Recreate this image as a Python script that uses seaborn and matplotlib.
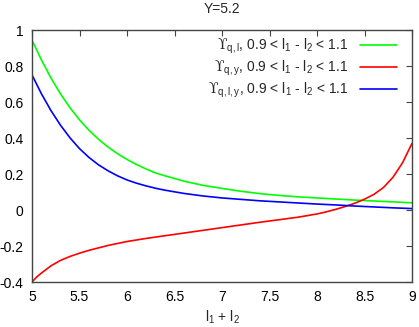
import matplotlib
matplotlib.use("Agg")
import matplotlib.pyplot as plt
import seaborn as sns
import pandas as pd
from matplotlib.ticker import FixedLocator, FuncFormatter

# ---- data ----
x_green = [5.0, 5.1, 5.2, 5.3, 5.4, 5.5, 5.6, 5.7, 5.8, 5.9, 6.0, 6.1, 6.2, 6.3, 6.4, 6.6, 6.8,
           7.0, 7.2, 7.4, 7.6, 7.8, 8.0, 8.2, 8.4, 8.6, 8.8, 9.0]
y_green = [0.943, 0.833, 0.733, 0.645, 0.568, 0.501, 0.443, 0.393, 0.350, 0.313, 0.281, 0.253, 0.228, 0.206, 0.19, 0.16, 0.137,
           0.12, 0.104, 0.091, 0.081, 0.073, 0.067, 0.061, 0.055, 0.05, 0.045, 0.04]

x_red = [5.0, 5.05, 5.1, 5.2, 5.3, 5.4, 5.5, 5.6, 5.8, 6.0, 6.2, 6.4, 6.6, 6.8, 7.0, 7.2, 7.4, 7.6, 7.8,
         8.0, 8.1, 8.2, 8.3, 8.4, 8.5, 8.6, 8.7, 8.8, 8.9, 9.0]
y_red = [-0.40, -0.372, -0.35, -0.31, -0.28, -0.258, -0.24, -0.224, -0.197, -0.175, -0.158, -0.143, -0.128, -0.113, -0.098, -0.083, -0.068, -0.054, -0.04,
         -0.022, -0.01, 0.004, 0.02, 0.038, 0.06, 0.087, 0.125, 0.182, 0.262, 0.37]

x_blue = [5.0, 5.1, 5.2, 5.3, 5.4, 5.5, 5.6, 5.7, 5.8, 5.9, 6.0, 6.1, 6.2, 6.3, 6.4, 6.6, 6.8,
          7.0, 7.2, 7.4, 7.6, 7.8, 8.0, 8.2, 8.4, 8.6, 8.8, 9.0]
y_blue = [0.75, 0.645, 0.552, 0.471, 0.401, 0.341, 0.292, 0.251, 0.218, 0.19, 0.167, 0.149, 0.134, 0.121, 0.11, 0.092, 0.078,
          0.067, 0.059, 0.051, 0.045, 0.039, 0.033, 0.028, 0.022, 0.017, 0.012, 0.008]

series_labels = [
    r"$\mathsf{ϒ}_{q,l}$, 0.9 < l$_1$ - l$_2$ < 1.1",
    r"$\mathsf{ϒ}_{q,y}$, 0.9 < l$_1$ - l$_2$ < 1.1",
    r"$\mathsf{ϒ}_{q,l,y}$, 0.9 < l$_1$ - l$_2$ < 1.1",
]
series_colors = ["#00ff00", "#ff0000", "#0000ff"]

x_ticks = [5, 5.5, 6, 6.5, 7, 7.5, 8, 8.5, 9]
y_ticks = [-0.4, -0.2, 0, 0.2, 0.4, 0.6, 0.8, 1]
title_text = "Y=5.2"
xlabel_text = r"l$_1$ + l$_2$"

# ---- build long table ----
frames = []
for lab, xs, ys in zip(series_labels, [x_green, x_red, x_blue], [y_green, y_red, y_blue]):
    frames.append(pd.DataFrame({"x": xs, "y": ys, "series": lab}))
df = pd.concat(frames, ignore_index=True)

sns.set_style("white")
plt.rcParams["font.family"] = ["Liberation Sans", "DejaVu Sans"]
plt.rcParams["mathtext.fontset"] = "custom"
plt.rcParams["mathtext.rm"] = "Liberation Sans"
plt.rcParams["mathtext.it"] = "Liberation Sans"
plt.rcParams["mathtext.sf"] = "DejaVu Serif"
plt.rcParams["mathtext.default"] = "regular"
plt.rcParams["axes.unicode_minus"] = False

fig = plt.figure(figsize=(4.19, 3.27), dpi=100)
ax = fig.add_axes([32 / 419, 1 - 282 / 327, 380 / 419, 252 / 327])

sns.lineplot(data=df, x="x", y="y", hue="series", hue_order=series_labels,
             palette=series_colors, ax=ax, linewidth=1.2, estimator=None, sort=True)
for ln in ax.lines:
    ln.set_solid_joinstyle("round")

ax.set_xlim(5, 9)
ax.set_ylim(-0.4, 1)
ax.xaxis.set_major_locator(FixedLocator(x_ticks))
ax.yaxis.set_major_locator(FixedLocator(y_ticks))
ax.xaxis.set_major_formatter(FuncFormatter(lambda v, p: f"{v:g}"))
ax.yaxis.set_major_formatter(FuncFormatter(lambda v, p: f"{v:g}"))
ax.tick_params(direction="in", length=4, width=0.8, color="#444444",
               top=True, right=True, labelsize=10, pad=6, labelcolor="black")
for s in ax.spines.values():
    s.set_color("#444444")
    s.set_linewidth(1.0)
ax.set_xlabel(xlabel_text, fontsize=10, labelpad=3)
ax.set_ylabel("")
ax.set_title(title_text, fontsize=10, pad=12)

handles, labels = ax.get_legend_handles_labels()
ax.legend(handles, labels, loc="upper right", bbox_to_anchor=(1 - 5 / 380, 1 + 3 / 252),
          frameon=False, markerfirst=False,
          fontsize=10, handlelength=2.7, handletextpad=0.8, labelspacing=0.2,
          borderaxespad=0.3, borderpad=0.4)

fig.savefig("out.png", dpi=100)
